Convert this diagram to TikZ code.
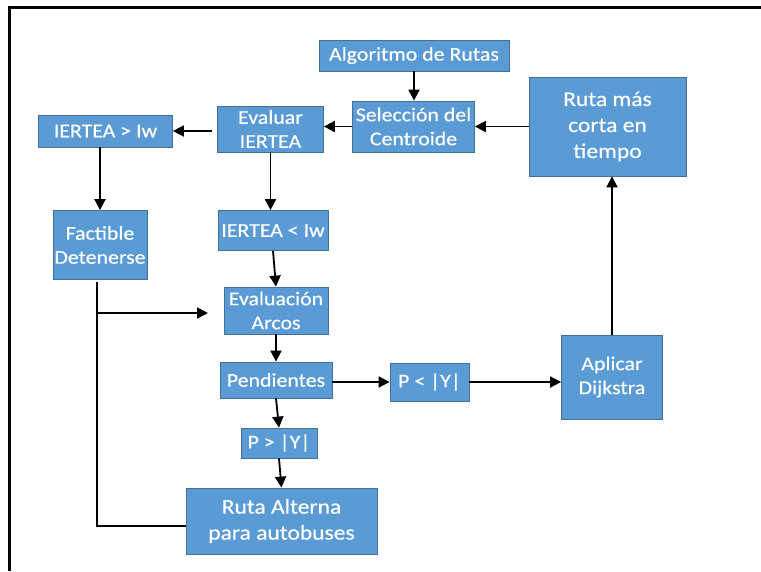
\documentclass[tikz,border=0pt]{standalone}
\usepackage{fontspec}
\setmainfont{Carlito}[FakeStretch=1.12,FakeBold=0.3]
\usetikzlibrary{arrows.meta}
\definecolor{boxblue}{HTML}{5B9BD5}
\definecolor{boxedge}{HTML}{41719C}
\tikzset{
  box/.style={fill=boxblue, draw=boxedge, line width=0.8pt, inner sep=0pt},
  lbl/.style={text=white, align=center, inner sep=0pt,
              font=\fontsize{19.5}{24}\selectfont},
  biglbl/.style={lbl, font=\fontsize{21}{26}\selectfont},
  conn/.style={draw=black, line width=1.8pt},
  arr/.style={conn, -{Triangle[length=11pt,width=11pt]}},
  frame/.style={draw=black, line width=3pt}
}
\begin{document}
\begin{tikzpicture}[x=1pt, y=-1pt]
  \useasboundingbox (0,0) rectangle (761,571);
  % page frame: top and left rules
  \coordinate (ftl) at (9.5,7.5);
  \coordinate (ftr) at (761,7.5);
  \coordinate (fbl) at (9.5,571);
  \draw[frame] (ftr) -- (ftl) -- (fbl);

  % boxes
  \node[box, minimum width=190pt, minimum height=31pt] (alg) at (414,55.5) {};
  \node[box, minimum width=122pt, minimum height=51pt] (sel) at (413.5,126.5) {};
  \node[box, minimum width=106pt, minimum height=46pt] (eva) at (270.5,129) {};
  \node[box, minimum width=134pt, minimum height=32pt] (gt) at (105.5,131) {};
  \node[box, minimum width=157pt, minimum height=99pt] (rmc) at (607.5,126.5) {};
  \node[box, minimum width=94pt, minimum height=69pt] (fac) at (100,245) {};
  \node[box, minimum width=110pt, minimum height=40pt] (lt) at (273,230.5) {};
  \node[box, minimum width=104pt, minimum height=47pt] (evl) at (276,310.5) {};
  \node[box, minimum width=112pt, minimum height=36pt] (pen) at (276,380) {};
  \node[box, minimum width=79pt, minimum height=38pt] (plt) at (429.5,382) {};
  \node[box, minimum width=101pt, minimum height=84pt] (dij) at (612,377) {};
  \node[box, minimum width=76pt, minimum height=30pt] (pgt) at (279,443) {};
  \node[box, minimum width=191pt, minimum height=66pt] (alt) at (281.5,521) {};

  % labels
  \node[lbl] (algT) at (alg) {Algoritmo de Rutas};
  \node[lbl] (selT) at (sel) {Selección del\\Centroide};
  \node[lbl] (evaT) at (eva) {Evaluar\\IERTEA};
  \node[lbl] (gtT) at (gt) {IERTEA > Iw};
  \node[biglbl] (rmcT) at (rmc) {Ruta más\\corta en\\tiempo};
  \node[lbl] (facT) at (fac) {Factible\\Detenerse};
  \node[lbl] (ltT) at (lt) {IERTEA < Iw};
  \node[lbl] (evlT) at (evl) {Evaluación\\Arcos};
  \node[lbl] (penT) at (pen) {Pendientes};
  \node[lbl] (pltT) at (plt) {P < |Y|};
  \node[lbl] (dijT) at (dij) {Aplicar\\Dijkstra};
  \node[lbl] (pgtT) at (pgt) {P > |Y|};
  \node[biglbl] (altT) at (alt) {Ruta Alterna\\para autobuses};

  % connectors
  \draw[arr] (alg.south) -- (alg.south |- sel.north);
  \draw[arr] (rmc.west) -- (sel.east);
  \draw[arr] (sel.west) -- (sel.west -| eva.east);
  \draw[arr, shorten <=5pt] (eva.west |- gt.east) -- (gt.east);
  \draw[arr] (gt.south -| fac.north) -- (fac.north);
  \draw[arr] (eva.south) -- (eva.south |- lt.north);
  \draw[arr] (lt.south) -- (evl.north);
  \draw[arr] (evl.south) -- (pen.north);
  \draw[arr] (pen.east |- plt.west) -- (plt.west);
  \draw[arr] (plt.east) -- (plt.east -| dij.west);
  \draw[arr] (pen.south) -- (pgt.north);
  \draw[arr] (pgt.south) -- (alt.north);
  \draw[arr] (dij.north) -- (dij.north |- rmc.south);

  % branch from "Factible Detenerse"
  \coordinate (fdrop) at (97,282);
  \coordinate (fcorner) at (97,526);
  \coordinate (fsplit) at (97,313);
  \coordinate (fend) at (208,313);
  \draw[conn] (fdrop) -- (fcorner) -- (fcorner -| alt.west);
  \draw[arr] (fsplit) -- (fend);
\end{tikzpicture}
\end{document}
